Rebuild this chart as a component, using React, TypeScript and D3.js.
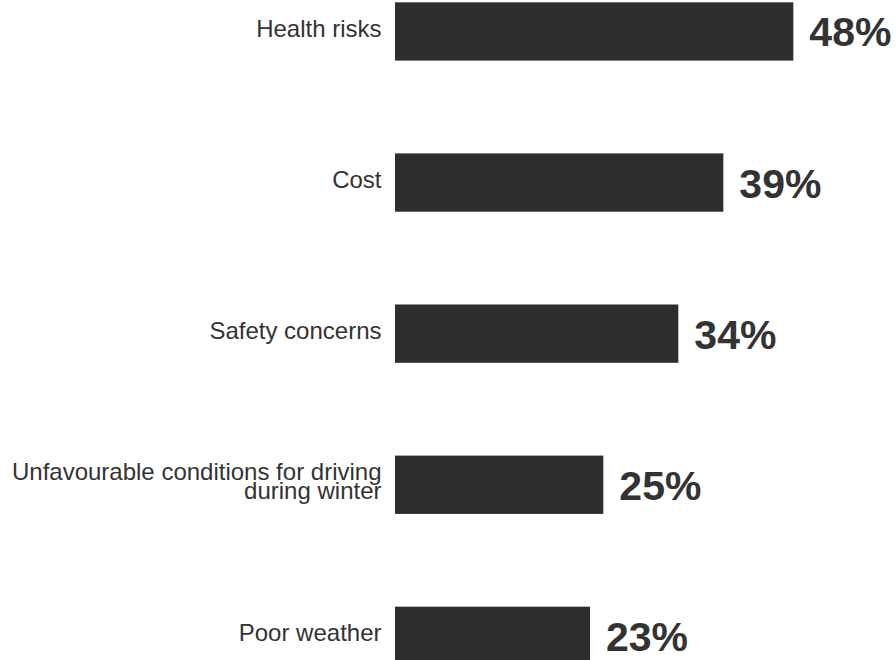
import React, { useEffect } from "react";
import * as d3 from "d3";

const categories: string[] = [
  "Health risks",
  "Cost",
  "Safety concerns",
  "Unfavourable conditions for driving\nduring winter",
  "Poor weather",
];
const values: number[] = [47.8, 39.4, 34, 25, 23.4];
const valueLabels: string[] = ["48%", "39%", "34%", "25%", "23%"];

const W = 896;
const H = 660;
const FONT = "'Liberation Sans', Arial, Helvetica, sans-serif";

export default function App() {
  useEffect(() => {
    document.body.style.margin = "0";
  }, []);

  const x0 = 395;
  const x = d3.scaleLinear().domain([0, 60]).range([x0, x0 + 500]);
  const y = d3
    .scaleBand<string>()
    .domain(categories)
    .range([2.3, 665])
    .paddingInner(0.614)
    .paddingOuter(0);

  return (
    <svg width={W} height={H} style={{ display: "block" }} fontFamily={FONT}>
      <rect width={W} height={H} fill="#ffffff" />
      {categories.map((c, i) => {
        const top = y(c) as number;
        const bw = y.bandwidth();
        const cy = top + bw / 2;
        const lines = c.split("\n");
        const spacing = 19;
        return (
          <g key={c}>
            <rect x={x(0)} y={top} width={x(values[i]) - x(0)} height={bw} fill="#2e2e2e" />
            <text textAnchor="end" fontSize={24} fill="#333333">
              {lines.map((l, j) => (
                <tspan
                  key={j}
                  x={x(0) - 13.5}
                  y={cy + 5.2 + (j - (lines.length - 1) / 2) * spacing}
                >
                  {l}
                </tspan>
              ))}
            </text>
            <text
              x={x(values[i]) + 16}
              y={cy + 15}
              fontSize={41}
              fontWeight="bold"
              fill="#333333"
            >
              {valueLabels[i]}
            </text>
          </g>
        );
      })}
    </svg>
  );
}
